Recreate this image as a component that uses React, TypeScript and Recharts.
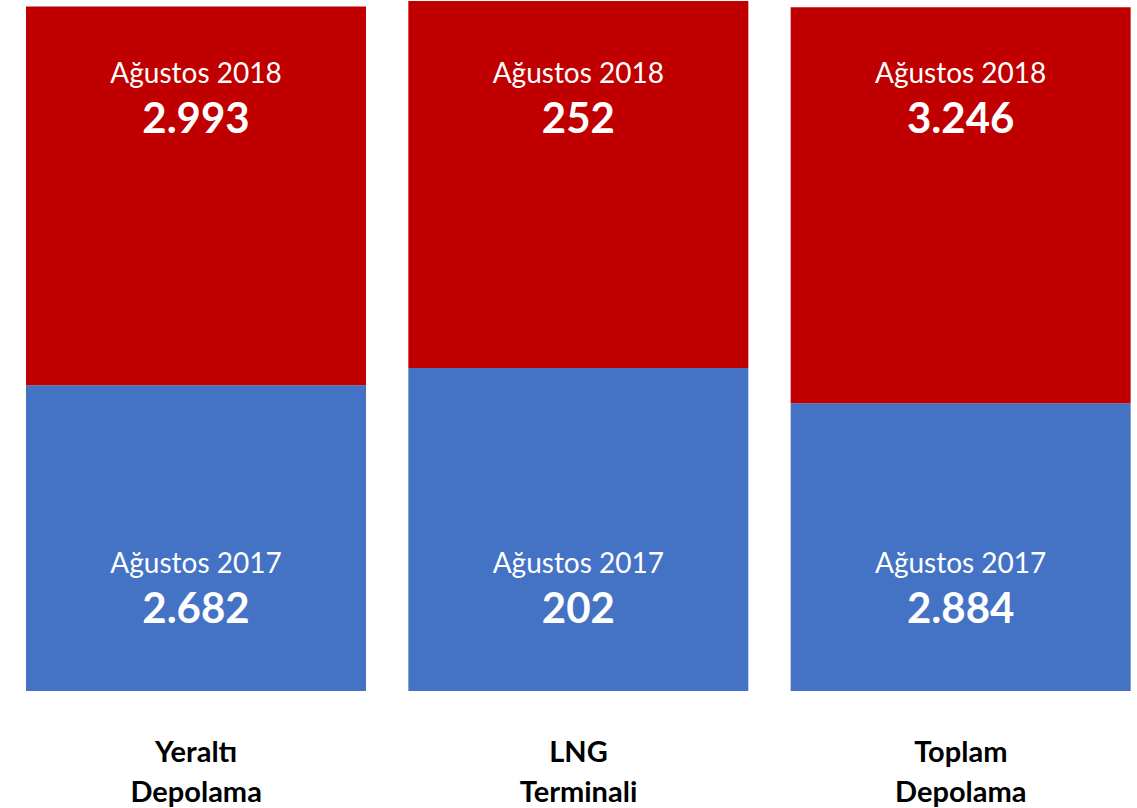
import { Bar, BarChart, XAxis, YAxis, LabelList } from "recharts"

const categories = ["Yeraltı Depolama", "LNG Terminali", "Toplam Depolama"]
const values2017 = [2682, 202, 2884]
const values2018 = [2993, 252, 3246]
// segment heights as drawn in the picture (share of the full column, %)
const share2017 = [44.3, 46.8, 41.7]
const share2018 = [54.9, 53.2, 57.4]
const seriesLabels = ["Ağustos 2017", "Ağustos 2018"]

const data = categories.map((name, i) => ({
  name,
  s2017: share2017[i],
  s2018: share2018[i],
}))

const FONT = "Lato, 'Open Sans', sans-serif"
const TOP = 1

function fmt(v: number) {
  return String(v).replace(/\B(?=(\d{3})+(?!\d))/g, ".")
}

function makeLabel(period: string, values: number[], fromTop: boolean) {
  return (props: any) => {
    const x = Number(props.x)
    const y = Number(props.y)
    const w = Number(props.width)
    const h = Number(props.height)
    const cx = x + w / 2
    // 2018 labels sit at a fixed height below the top of the plot, 2017 labels above the bottom
    const base = fromTop ? TOP + 82 : y + h - 118
    return (
      <g>
        <text x={cx} y={base} textAnchor="middle" fill="#fff" fontFamily={FONT} fontSize={28}>
          {period}
        </text>
        <text x={cx} y={base + 50} textAnchor="middle" fill="#fff" fontFamily={FONT} fontSize={42} fontWeight="bold">
          {fmt(values[props.index])}
        </text>
      </g>
    )
  }
}

function CategoryTick(props: any) {
  const { x, y, payload } = props
  const lines = String(payload.value).split(" ")
  return (
    <g>
      {lines.map((t: string, i: number) => (
        <text key={i} x={x} y={y + 63 + i * 40} textAnchor="middle" fill="#000" fontFamily={FONT} fontSize={29} fontWeight="bold">
          {t}
        </text>
      ))}
    </g>
  )
}

export default function App() {
  return (
    <div style={{ position: "absolute", left: 0, top: 0, width: 1137, height: 808, overflow: "hidden", background: "#fff" }}>
      <BarChart width={1160} height={808} data={data} margin={{ top: TOP, right: 8, left: 5, bottom: 0 }} barSize={340}>
        <XAxis dataKey="name" height={117} axisLine={false} tickLine={false} tick={<CategoryTick />} interval={0} />
        <YAxis hide domain={[0, 100]} />
        <Bar dataKey="s2017" stackId="a" fill="#4472C4" isAnimationActive={false}>
          <LabelList dataKey="s2017" content={makeLabel(seriesLabels[0], values2017, false)} />
        </Bar>
        <Bar dataKey="s2018" stackId="a" fill="#C00000" isAnimationActive={false}>
          <LabelList dataKey="s2018" content={makeLabel(seriesLabels[1], values2018, true)} />
        </Bar>
      </BarChart>
    </div>
  )
}
